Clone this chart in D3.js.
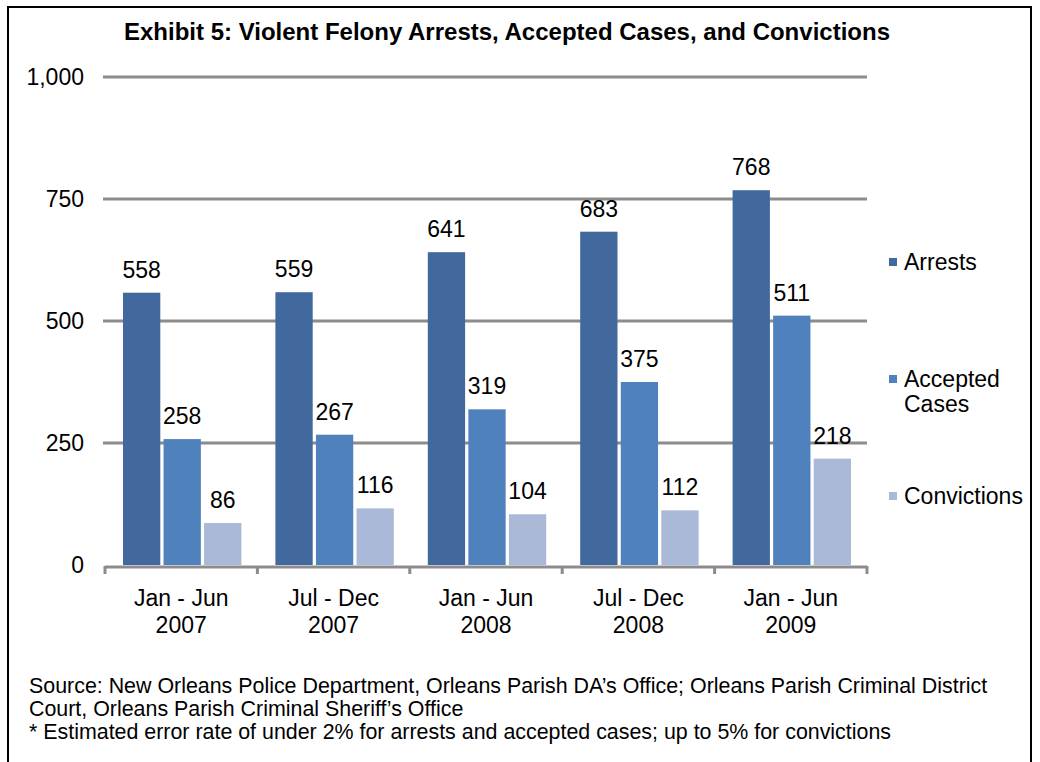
<!DOCTYPE html>
<html>
<head>
<meta charset="utf-8">
<script src="https://cdn.jsdelivr.net/npm/d3@7"></script>
<style>
  body { margin: 0; background: #fff; }
  svg { display: block; font-family: "Liberation Sans", Arial, sans-serif; }
</style>
</head>
<body>
<svg id="chart" width="1040" height="762"></svg>
<script>
// data
const periods = [["Jan - Jun", "2007"], ["Jul - Dec", "2007"], ["Jan - Jun", "2008"], ["Jul - Dec", "2008"], ["Jan - Jun", "2009"]];
const seriesNames = ["Arrests", "Accepted Cases", "Convictions"];
const arrests = [558, 559, 641, 683, 768];
const accepted = [258, 267, 319, 375, 511];
const convictions = [86, 116, 104, 112, 218];
const yTicks = [0, 250, 500, 750, 1000];
const colors = ["#41699d", "#4f81bd", "#aab9d8"];

const svg = d3.select("#chart");
const fs = 23;

// frame
svg.append("rect")
    .attr("x", 8).attr("y", 7)
    .attr("width", 1023).attr("height", 800)
    .attr("fill", "none").attr("stroke", "#000").attr("stroke-width", 2);

svg.append("text")
    .attr("x", 507).attr("y", 40)
    .attr("text-anchor", "middle")
    .attr("font-size", 24).attr("font-weight", "bold")
    .text("Exhibit 5: Violent Felony Arrests, Accepted Cases, and Convictions");

const x = d3.scaleBand().domain(d3.range(periods.length)).range([105, 867]);
const y = d3.scaleLinear().domain([0, 1000]).range([565, 77]);
const inner = d3.scaleBand().domain(d3.range(3)).range([18, x.bandwidth() - 16]).paddingInner(0.08);

// gridlines
svg.append("g")
    .selectAll("line")
    .data(yTicks.filter(d => d > 0))
    .join("line")
    .attr("x1", 103).attr("x2", 867)
    .attr("y1", d => y(d)).attr("y2", d => y(d))
    .attr("stroke", "#8c8c8c").attr("stroke-width", 3);

// y labels
svg.append("g")
    .selectAll("text")
    .data(yTicks)
    .join("text")
    .attr("x", 84).attr("y", d => y(d) + 8)
    .attr("text-anchor", "end")
    .attr("font-size", fs)
    .text(d => d3.format(",")(d));

// bars
const series = [arrests, accepted, convictions];
series.forEach((vals, s) => {
  const g = svg.append("g");
  g.selectAll("rect")
    .data(vals)
    .join("rect")
    .attr("x", (d, i) => x(i) + inner(s))
    .attr("y", d => y(d))
    .attr("width", inner.bandwidth())
    .attr("height", d => y(0) - y(d))
    .attr("fill", colors[s]);
  g.selectAll("text")
    .data(vals)
    .join("text")
    .attr("x", (d, i) => x(i) + inner(s) + inner.bandwidth() / 2)
    .attr("y", d => y(d) - 15)
    .attr("text-anchor", "middle")
    .attr("font-size", fs)
    .text(d => d);
});

// x axis
const xAxis = svg.append("g");
xAxis.append("line")
    .attr("x1", 105).attr("x2", 867)
    .attr("y1", y(0) + 2).attr("y2", y(0) + 2)
    .attr("stroke", "#8c8c8c").attr("stroke-width", 3);
xAxis.selectAll("line.tick")
    .data(d3.range(periods.length + 1))
    .join("line")
    .attr("class", "tick")
    .attr("x1", i => i < periods.length ? x(i) : x.range()[1])
    .attr("x2", i => i < periods.length ? x(i) : x.range()[1])
    .attr("y1", y(0) + 1).attr("y2", y(0) + 9)
    .attr("stroke", "#8c8c8c").attr("stroke-width", 3);
const labels = xAxis.selectAll("text")
    .data(periods)
    .join("text")
    .attr("text-anchor", "middle")
    .attr("font-size", fs);
labels.append("tspan")
    .attr("x", (d, i) => x(i) + x.bandwidth() / 2).attr("y", 606)
    .text(d => d[0]);
labels.append("tspan")
    .attr("x", (d, i) => x(i) + x.bandwidth() / 2).attr("y", 633)
    .text(d => d[1]);

// legend
const legendY = [262, 379, 496];
const legend = svg.append("g");
seriesNames.forEach((name, s) => {
  legend.append("rect")
    .attr("x", 889).attr("y", legendY[s] - 4)
    .attr("width", 8).attr("height", 8)
    .attr("fill", colors[s]);
  const t = legend.append("text")
    .attr("font-size", fs);
  const parts = name === "Accepted Cases" ? ["Accepted", "Cases"] : [name];
  parts.forEach((p, k) => {
    t.append("tspan").attr("x", 904).attr("y", legendY[s] + 8 + k * 25).text(p);
  });
});

// footer
const notes = [
  "Source: New Orleans Police Department, Orleans Parish DA\u2019s Office; Orleans Parish Criminal District",
  "Court, Orleans Parish Criminal Sheriff\u2019s Office",
  "* Estimated error rate of under 2% for arrests and accepted cases; up to 5% for convictions"
];
svg.append("g")
    .selectAll("text")
    .data(notes)
    .join("text")
    .attr("x", 29).attr("y", (d, i) => 693 + i * 23)
    .attr("font-size", 21.4)
    .text(d => d);
</script>
</body>
</html>
